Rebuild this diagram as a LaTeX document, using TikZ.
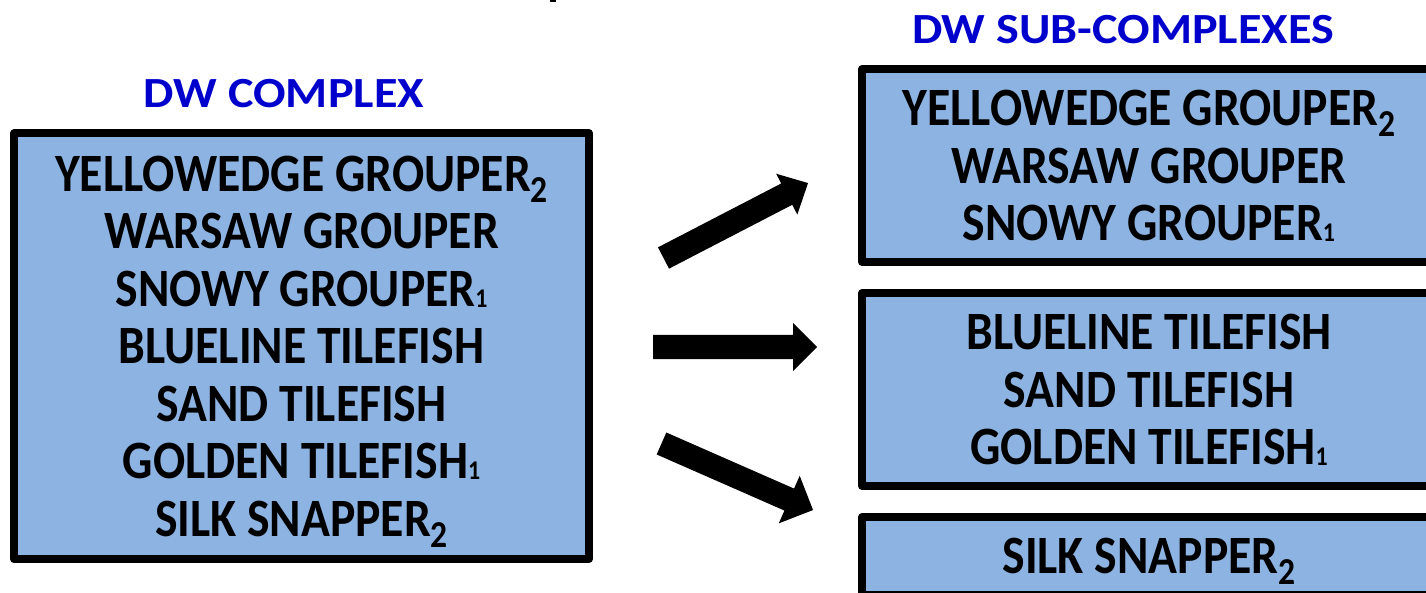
\documentclass[tikz,border=0pt]{standalone}
\usepackage{fontspec}
\setmainfont{Carlito}
\newfontfamily\bodyfont[FakeStretch=0.883]{Carlito}
\newfontfamily\headfont[FakeStretch=1.12]{Carlito}
\definecolor{boxblue}{RGB}{141,179,226}
\definecolor{headblue}{RGB}{0,0,204}
\newcommand\subtwo{\raisebox{-11pt}[0pt][0pt]{\fontsize{38}{38}\selectfont 2}}
\newcommand\subone{\raisebox{-1pt}[0pt][0pt]{\fontsize{27}{27}\selectfont 1}}
% #1 start coordinate, #2 angle, #3 length, #4 head length, #5 head half width
\newcommand\blkarrow[5]{%
  \begin{scope}[shift={(#1)}, rotate=#2]
    \fill[black] (0,-12) -- ({#3-#4},-12) -- ({#3-#4},-#5) -- (#3,0) -- ({#3-#4},#5) -- ({#3-#4},12) -- (0,12) -- cycle;
  \end{scope}}
\begin{document}
\begin{tikzpicture}[x=1pt,y=-1pt]
\tikzset{
  box/.style={draw=black, line width=8pt, fill=boxblue, line join=round,
    align=center, inner sep=0pt,
    font=\bodyfont\bfseries\fontsize{54}{57.5}\selectfont},
  head/.style={text=headblue, anchor=base, inner sep=0pt,
    font=\headfont\bfseries\fontsize{43}{50}\selectfont}
}
\useasboundingbox (0,0) rectangle (1426,593);
\clip (0,0) rectangle (1426,593);

\fill[black] (550,0) rectangle (556,2.5);

\node[head] (h1) at (284,108) {DW COMPLEX};
\node[head] (h2) at (1123,44) {DW SUB-COMPLEXES};

\node[box, minimum width=575pt, minimum height=425.5pt] (dw) at (301.5,346.25)
  {YELLOWEDGE GROUPER\subtwo\\WARSAW GROUPER\\SNOWY GROUPER\subone\\BLUELINE TILEFISH\\SAND TILEFISH\\GOLDEN TILEFISH\subone\\SILK SNAPPER\subtwo};

\node[box, minimum width=574pt, minimum height=193pt] (s1) at (1149,165.5)
  {YELLOWEDGE GROUPER\subtwo\\WARSAW GROUPER\\SNOWY GROUPER\subone};
\node[box, minimum width=574pt, minimum height=193pt] (s2) at (1149,389.5)
  {BLUELINE TILEFISH\\SAND TILEFISH\\GOLDEN TILEFISH\subone};
\node[box, minimum width=574pt, minimum height=78pt] (s3) at (1149,556)
  {SILK SNAPPER\subtwo};

\coordinate (a1s) at (663.5,258);
\coordinate (a2s) at (653,347);
\coordinate (a3s) at (661.5,443.5);
\blkarrow{a1s}{27.4}{162.8}{24}{23}
\blkarrow{a2s}{0}{164}{24}{24}
\blkarrow{a3s}{-23.7}{165.5}{26}{26}
\end{tikzpicture}
\end{document}
